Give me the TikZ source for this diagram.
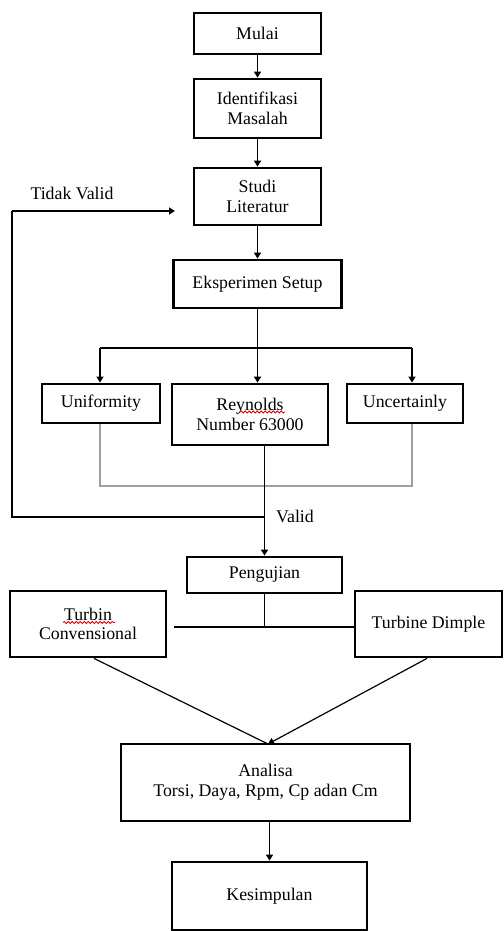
\documentclass[tikz,border=0pt]{standalone}
\usepackage{fontspec}
\setmainfont{Liberation Serif}
\usepackage{tikz}
\usetikzlibrary{arrows.meta, calc, decorations.pathmorphing}

\begin{document}
\begin{tikzpicture}[x=0.5pt, y=-0.5pt,
    font=\fontsize{8.9}{9.9}\selectfont,
    box/.style={draw, line width=1.4pt, align=center, inner sep=1pt},
    arr/.style={-{Triangle[length=3pt, width=3.5pt]}, line width=0.9pt},
    link/.style={line width=0.9pt},
    thinlink/.style={line width=0.6pt},
    grayline/.style={line width=1pt, gray!75},
    spell/.style={red!85!black, line width=0.4pt,
                  decorate, decoration={snake, segment length=2pt, amplitude=0.5pt}}]

    % --- Frame ---
    \fill[white] (0,0) rectangle (503,931);
    \useasboundingbox (0,0) rectangle (503,931);

    % --- Main column ---
    \node[box, minimum width=63.5pt, minimum height=20.5pt] (mulai) at (257.5, 33.5) {Mulai};
    \node[box, minimum width=63.5pt, minimum height=29.5pt] (ident) at (257.5,108.5) {Identifikasi\\Masalah};
    \node[box, minimum width=63.5pt, minimum height=28.5pt] (studi) at (257.5,196.5) {Studi\\Literatur};
    \node[box, minimum width=84pt, minimum height=24pt] (eksp) at (257.5,284) {Eksperimen Setup};

    % --- Setup checks ---
    \node[box, minimum width=59pt, minimum height=19.5pt] (unif) at (101,403.5) {Uniformity};
    \node[box, minimum width=78pt, minimum height=30.5pt] (reyn) at (250,414.5) {Reynolds\\Number 63000};
    \node[box, minimum width=58pt, minimum height=19.5pt] (uncert) at (405,403.5) {Uncertainly};

    % --- Testing ---
    \node[box, minimum width=77.5pt, minimum height=18pt] (peng) at (264.5,575) {Pengujian};
    \node[box, minimum width=78pt, minimum height=33pt] (turbc) at (88,624) {Turbin\\Convensional};
    \node[box, minimum width=73.5pt, minimum height=33pt] (turbd) at (428.5,624) {Turbine Dimple};

    % --- Result ---
    \node[box, minimum width=144.5pt, minimum height=38.5pt] (anal) at (265.5,782.5) {Analisa\\Torsi, Daya, Rpm, Cp adan Cm};
    \node[box, minimum width=97.5pt, minimum height=34pt] (kesim) at (269.5,896) {Kesimpulan};

    % --- Labels ---
    \node (tidak) at (72,193) {Tidak Valid};
    \node (valid) at (295,516) {Valid};

    % --- Spelling marks ---
    \draw[spell] (240,412) -- (285,412);
    \draw[spell] (63,622.5) -- (115,622.5);

    % --- Helper points ---
    \coordinate (bl) at (100,348);
    \coordinate (br) at (412,348);
    \coordinate (gl) at (100,486);
    \coordinate (gr) at (412,486);
    \coordinate (jn) at (264.5,517);
    \coordinate (lb) at (12,517);
    \coordinate (lt) at (12,211);
    \coordinate (lend) at (175,211);
    \coordinate (sp) at (264.5,627);
    \coordinate (sl) at (174,627);
    \coordinate (meet) at (268,744);

    % --- Edges ---
    \draw[arr] (mulai) -- (ident);
    \draw[arr] (ident) -- (studi);
    \draw[arr] (studi) -- (eksp);
    \draw[arr] (eksp.south) -- (eksp.south |- reyn.north);
    \draw[link] (bl) -- (br);
    \draw[arr] (bl) -- (bl |- unif.north);
    \draw[arr] (br) -- (br |- uncert.north);
    \draw[grayline] (bl |- unif.south) -- (gl) -- (gr) -- (br |- uncert.south);
    \draw[arr] (peng.north |- reyn.south) -- (peng.north);
    \draw[link] (jn) -- (lb) -- (lt);
    \draw[arr] (lt) -- (lend);
    \draw[thinlink] (peng.south) -- (sp);
    \draw[thinlink] (sl) -- (turbd.west |- sp);
    \draw[thinlink] ([xshift=3pt]turbc.south) -- (meet);
    \draw[thinlink, -{Triangle[length=3pt, width=3.5pt]}] ([xshift=-0.75pt]turbd.south) -- (meet);
    \draw[arr] (kesim.north |- anal.south) -- (kesim.north);
\end{tikzpicture}
\end{document}
